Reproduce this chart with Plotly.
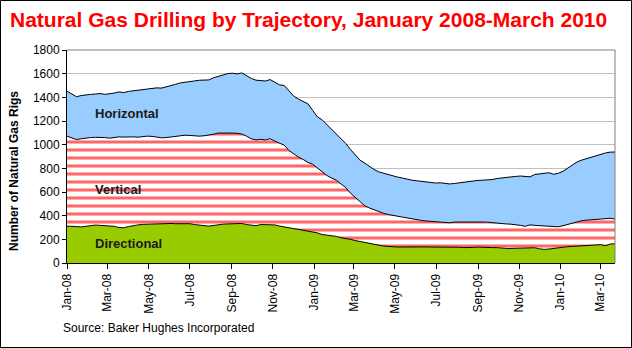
import pandas as pd
import plotly.graph_objects as go

# Weekly rig counts (Fridays), January 4 2008 through March 26 2010
weeks = pd.date_range("2008-01-04", periods=117, freq="7D")

directional = [
    312, 310, 306, 305, 310, 318, 321, 318, 315, 312,
    310, 300, 298, 308, 318, 322, 326, 328, 326, 326,
    330, 334, 334, 332, 334, 334, 332, 325, 318, 316,
    312, 318, 326, 328, 330, 332, 330, 334, 325, 318,
    315, 325, 326, 326, 322, 312, 305, 298, 290, 284,
    275, 265, 262, 255, 241, 237, 233, 225, 213, 208,
    200, 190, 182, 172, 168, 160, 150, 143, 140, 136,
    135, 135, 136, 138, 137, 136, 136, 135, 135, 136,
    138, 138, 136, 133, 130, 129, 132, 134, 131, 130,
    130, 130, 125, 123, 123, 124, 124, 128, 130, 129,
    120, 115, 118, 124, 130, 135, 138, 140, 143, 148,
    152, 155, 157, 155, 146, 160, 163,
]

vertical = [
    760, 745, 737, 745, 747, 742, 741, 745, 745, 743,
    750, 766, 766, 760, 748, 741, 742, 744, 744, 737,
    728, 726, 731, 736, 741, 746, 746, 747, 754, 759,
    768, 770, 772, 772, 770, 766, 766, 756, 747, 732,
    725, 720, 714, 724, 708, 698, 690, 652, 630, 611,
    600, 585, 573, 550, 529, 503, 485, 475, 455, 430,
    390, 365, 333, 313, 297, 290, 283, 277, 270, 264,
    260, 253, 244, 234, 228, 224, 219, 217, 215, 212,
    208, 202, 210, 214, 216, 217, 214, 211, 215, 215,
    210, 206, 209, 207, 205, 201, 194, 182, 192, 189,
    196, 197, 194, 184, 176, 180, 188, 200, 209, 210,
    210, 211, 213, 217, 228, 218, 209,
]

horizontal = [
    380, 375, 362, 365, 366, 365, 366, 369, 365, 373,
    376, 380, 376, 382, 389, 397, 397, 398, 405, 417,
    420, 427, 435, 442, 447, 448, 458, 468, 472, 471,
    467, 477, 480, 492, 500, 506, 502, 516, 508, 510,
    505, 495, 498, 500, 500, 495, 505, 502, 490, 490,
    490, 495, 455, 430, 440, 430, 412, 398, 390, 372,
    370, 355, 355, 360, 350, 340, 337, 338, 335, 335,
    331, 330, 328, 328, 330, 330, 331, 332, 326, 330,
    326, 328, 326, 331, 336, 344, 347, 353, 354, 357,
    365, 378, 386, 394, 400, 407, 417, 420, 406, 430,
    439, 448, 451, 442, 452, 460, 474, 490, 503, 512,
    520, 529, 540, 548, 556, 559, 566,
]

tick_dates = [
    "2008-01-04", "2008-03-04", "2008-05-04", "2008-07-04", "2008-09-04",
    "2008-11-04", "2009-01-04", "2009-03-04", "2009-05-04", "2009-07-04",
    "2009-09-04", "2009-11-04", "2010-01-04", "2010-03-04",
]
tick_labels = [
    "Jan-08", "Mar-08", "May-08", "Jul-08", "Sep-08", "Nov-08", "Jan-09",
    "Mar-09", "May-09", "Jul-09", "Sep-09", "Nov-09", "Jan-10", "Mar-10",
]

FONT = "Liberation Sans, Arial, sans-serif"

fig = go.Figure()
fig.add_trace(go.Scatter(
    x=weeks, y=directional, name="Directional", stackgroup="rigs",
    mode="lines", line=dict(color="black", width=1),
    fillcolor="#99CC00",
))
fig.add_trace(go.Scatter(
    x=weeks, y=vertical, name="Vertical", stackgroup="rigs",
    mode="lines", line=dict(color="black", width=1),
    fillcolor="white",
    fillpattern=dict(shape="-", fgcolor="#FF0000", fgopacity=0.6,
                     bgcolor="white", size=8, solidity=0.38),
))
fig.add_trace(go.Scatter(
    x=weeks, y=horizontal, name="Horizontal", stackgroup="rigs",
    mode="lines", line=dict(color="black", width=1),
    fillcolor="#99CCFF",
))

# plot area: x 67..615, y 50..263 in a 632x348 page
L, R, T, B = 67, 17, 50, 85
W, H = 632 - L - R, 348 - T - B


def px(x):
    return (x - L) / W


def py(y):
    return (348 - B - y) / H


fig.update_layout(
    width=632, height=348,
    margin=dict(l=L, r=R, t=T, b=B),
    paper_bgcolor="white", plot_bgcolor="white",
    showlegend=False,
    font=dict(family=FONT, size=12, color="black"),
)

fig.update_xaxes(
    type="date", range=[weeks[0], weeks[-1]],
    tickmode="array", tickvals=tick_dates, ticktext=tick_labels,
    tickangle=-90, ticks="outside", ticklen=5, tickcolor="black",
    showline=True, linecolor="black", linewidth=1,
    showgrid=False, zeroline=False,
    tickfont=dict(family=FONT, size=12, color="black"),
)
fig.update_yaxes(
    range=[0, 1800], dtick=200, tick0=0,
    ticks="outside", ticklen=4, tickcolor="black",
    showline=True, linecolor="black", linewidth=1,
    showgrid=True, gridcolor="#C0C0C0", gridwidth=1, zeroline=False,
    tickfont=dict(family=FONT, size=12, color="black"),
)

# gray frame along the top and right of the plot area
fig.add_shape(type="line", xref="paper", yref="paper", x0=0, x1=1, y0=1, y1=1,
              line=dict(color="#808080", width=1))
fig.add_shape(type="line", xref="paper", yref="paper", x0=1, x1=1, y0=0, y1=1,
              line=dict(color="#808080", width=1))
# black border around the whole chart
fig.add_shape(type="rect", xref="paper", yref="paper",
              x0=px(0.5), x1=px(631.5), y0=py(347.5), y1=py(0.5),
              line=dict(color="black", width=1))

fig.add_annotation(
    text="<b>Natural Gas Drilling by Trajectory, January 2008-March 2010</b>",
    xref="paper", yref="paper", x=px(8), y=py(20),
    xanchor="left", yanchor="middle", showarrow=False,
    font=dict(family=FONT, size=21, color="#FF0000"),
)
fig.add_annotation(
    text="<b>Number of Natural Gas Rigs</b>", textangle=-90,
    xref="paper", yref="paper", x=px(14), y=py(171),
    xanchor="center", yanchor="middle", showarrow=False,
    font=dict(family=FONT, size=12, color="black"),
)
fig.add_annotation(
    text="Source: Baker Hughes Incorporated",
    xref="paper", yref="paper", x=px(61), y=py(328),
    xanchor="left", yanchor="middle", showarrow=False,
    font=dict(family=FONT, size=12, color="black"),
)

for label, yv in [("Horizontal", 1260), ("Vertical", 624), ("Directional", 169)]:
    fig.add_annotation(
        text=f"<b>{label}</b>", x="2008-02-11", y=yv,
        xanchor="left", yanchor="middle", showarrow=False,
        font=dict(family=FONT, size=13, color="#1A1A1A"),
    )

fig.write_html("out.html")
